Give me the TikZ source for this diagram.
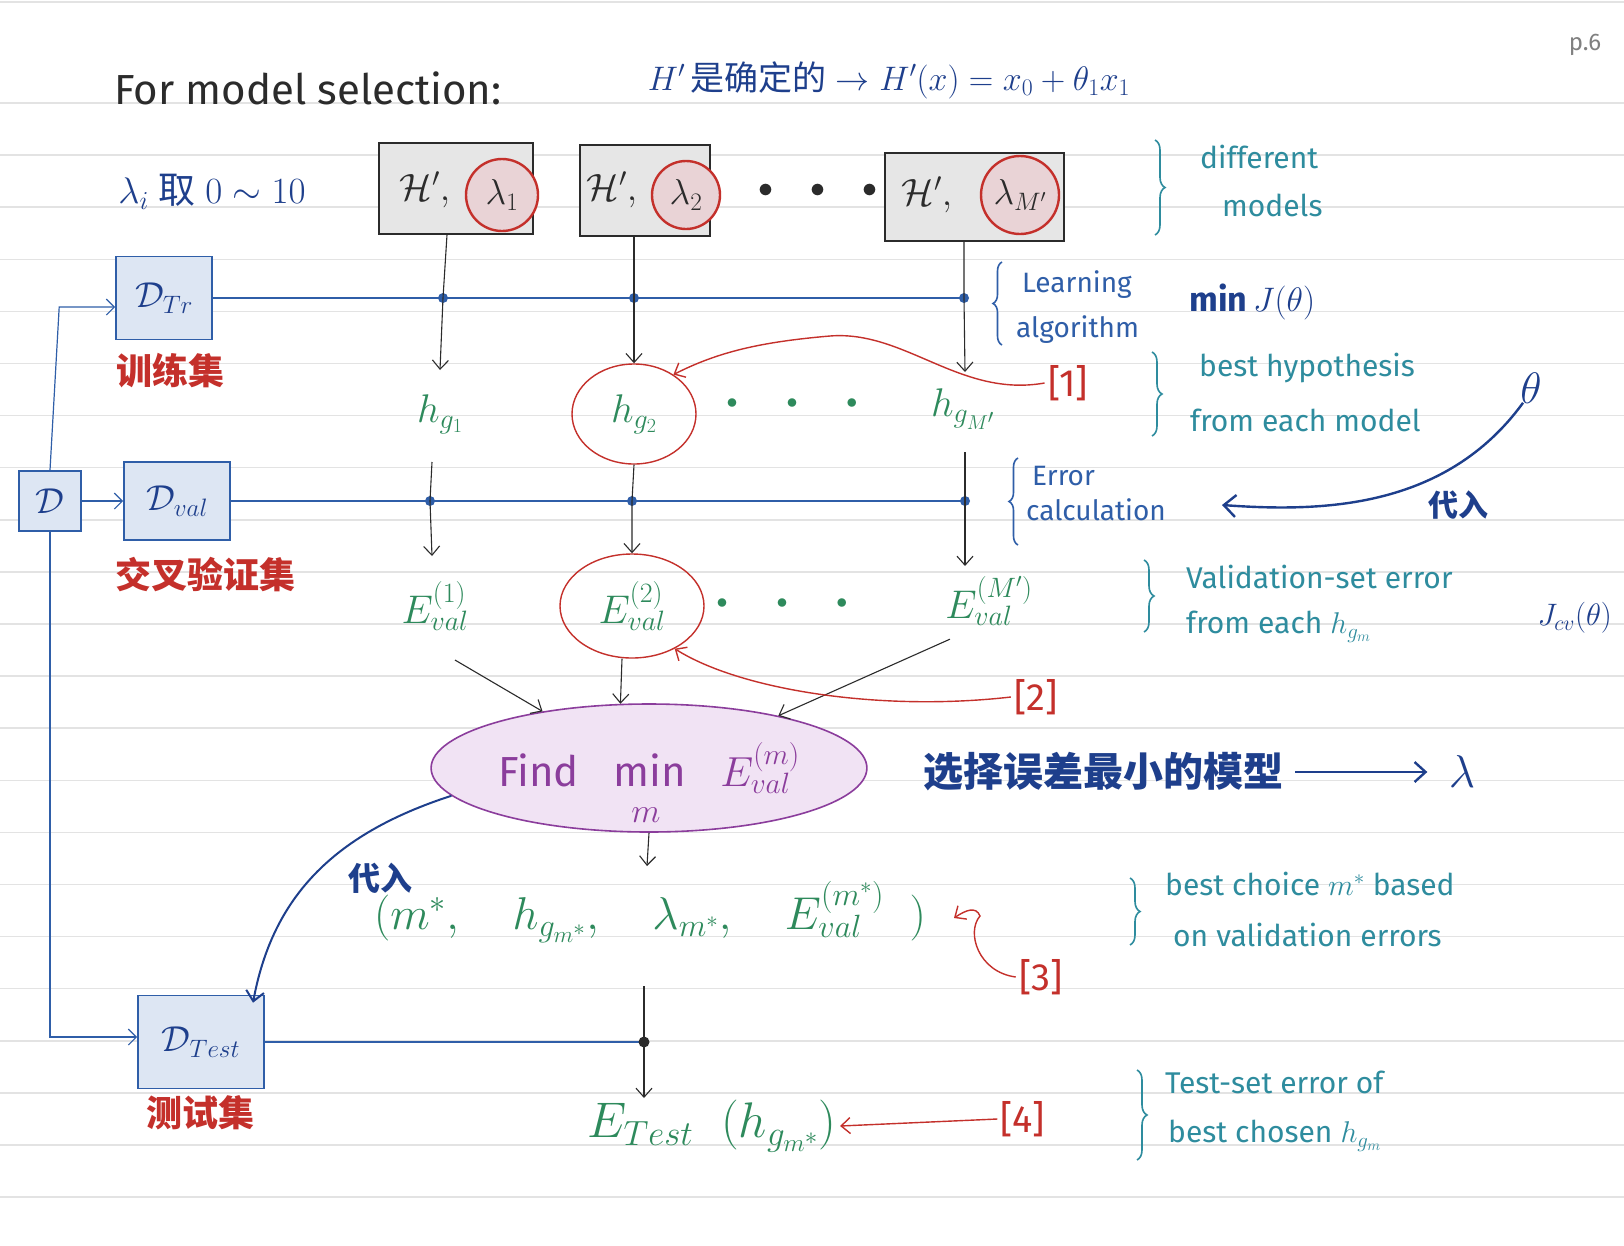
\RequirePackage{fix-cm}
\documentclass[tikz,border=0pt]{standalone}
\usepackage{fontspec}
\setmainfont{Fira Sans}
\newfontfamily\cjk{Noto Sans CJK SC}
\usetikzlibrary{shapes.geometric,decorations.pathreplacing,arrows.meta,calc}
\definecolor{ink}{HTML}{2B2B2B}
\definecolor{navy}{HTML}{1E3F8C}
\definecolor{bblue}{HTML}{2F5EA8}
\definecolor{boxfill}{HTML}{DDE6F3}
\definecolor{tealink}{HTML}{2E8C9E}
\definecolor{grn}{HTML}{2E8A5C}
\definecolor{redink}{HTML}{C4302B}
\definecolor{purp}{HTML}{8B3D9C}
\definecolor{purpfill}{HTML}{F1E3F4}
\definecolor{gfill}{HTML}{E6E6E6}
\definecolor{pinkfill}{HTML}{E9D3D6}
\definecolor{ruleline}{HTML}{E3E3E3}
\begin{document}
\begin{tikzpicture}[x=1pt,y=-1pt,
  modelbox/.style={draw=ink, fill=gfill, line width=1.6pt, inner sep=0pt},
  lamcirc/.style={circle, draw=redink, fill=pinkfill, line width=2.4pt, inner sep=0pt, text=ink, font=\fontsize{36}{40}\selectfont},
  hlab/.style={text=ink, font=\fontsize{38}{42}\selectfont},
  databox/.style={draw=bblue, fill=boxfill, line width=1.6pt, inner sep=0pt, text=navy, font=\fontsize{36}{40}\selectfont},
  redcjk/.style={text=redink, font=\cjk\bfseries\fontsize{36}{40}\selectfont},
  bus/.style={draw=bblue, line width=2pt},
  busdot/.style={fill=bblue},
  feed/.style={draw=bblue, line width=1.2pt, -{Straight Barb[length=8pt,width=16pt]}},
  arr/.style={draw=ink, line width=1.1pt, -{Straight Barb[length=9pt,width=16pt]}},
  redarr/.style={draw=redink, line width=1.4pt, -{Straight Barb[length=9pt,width=16pt]}},
  navyarr/.style={draw=navy, line width=2.4pt, -{Straight Barb[length=11pt,width=20pt]}},
  grnlab/.style={text=grn, font=\fontsize{40}{44}\selectfont},
  redlab/.style={text=redink, font=\fontsize{38}{42}\selectfont},
  note/.style={text=tealink, font=\fontsize{30}{34}\selectfont, anchor=west, inner sep=0pt},
  bnote/.style={text=bblue, font=\fontsize{28}{32}\selectfont, anchor=west, inner sep=0pt},
  navytxt/.style={text=navy, font=\fontsize{34}{38}\selectfont},
  brc/.style={draw=tealink, line width=1.6pt, decorate, decoration={brace, amplitude=10pt}},
  bbrc/.style={draw=bblue, line width=1.6pt, decorate, decoration={brace, amplitude=9pt}},
  dots/.style={font=\fontsize{30}{34}\selectfont},
  sdots/.style={font=\fontsize{22}{26}\selectfont}
]
\useasboundingbox (0,0) rectangle (1624,1245);
\fill[white] (0,0) rectangle (1624,1245);
\foreach \k in {0,...,21} {\draw[ruleline, line width=1.5pt] (0,{103+52.1*\k}) -- (1624,{103+52.1*\k});}
\draw[ruleline, line width=2pt] (0,2) -- (1624,2);

% titles
\node[text=ink, font=\fontsize{42}{46}\selectfont] (title) at (308,88) {For model selection:};
\node[navytxt] (hdef) at (889,80) {$H'$\,{\cjk 是确定的} $\rightarrow H'(x) = x_0 + \theta_1 x_1$};
\node[text=gray, font=\fontsize{24}{28}\selectfont] (page) at (1585,45) {p.6};
\node[navytxt, font=\fontsize{37}{40}\selectfont] (lamrange) at (212,192) {$\lambda_i$ {\cjk 取} $0\sim10$};

% model boxes
\node[modelbox, minimum width=154pt, minimum height=91pt] (m1) at (456,188.5) {};
\node[modelbox, minimum width=130pt, minimum height=91pt] (m2) at (645,190.5) {};
\node[modelbox, minimum width=179pt, minimum height=88pt] (m3) at (974.5,197) {};
\node[hlab] (H1) at (425,190) {$\mathcal{H}',$};
\node[hlab] (H2) at (612,190) {$\mathcal{H}',$};
\node[hlab] (H3) at (927,195) {$\mathcal{H}',$};
\node[lamcirc, minimum size=72pt] (l1) at (502,195) {$\lambda_1$};
\node[lamcirc, minimum size=68pt] (l2) at (686,195) {$\lambda_2$};
\node[lamcirc, minimum size=78pt] (l3) at (1020,195) {$\lambda_{M'}$};
\node[dots, text=ink] (dtop) at (818,191) {$\bullet\quad\bullet\quad\bullet$};

% data boxes
\node[databox, minimum width=96pt, minimum height=83pt] (Dtr) at (164,298) {$\mathcal{D}_{Tr}$};
\node[databox, minimum width=62pt, minimum height=60pt] (D) at (50,501) {$\mathcal{D}$};
\node[databox, minimum width=106pt, minimum height=78pt] (Dval) at (177,501) {$\mathcal{D}_{val}$};
\node[databox, minimum width=126pt, minimum height=93pt] (Dtest) at (201,1042) {$\mathcal{D}_{Test}$};
\node[redcjk] (ztr) at (170,371) {训练集};
\node[redcjk] (zval) at (205,575) {交叉验证集};
\node[redcjk] (ztest) at (200,1113) {测试集};

% feeds from D
\draw[feed] (D.north) -- ($(Dtr.west)+(-56,9)$) -- ($(Dtr.west)+(0,9)$);
\draw[feed] (D.east) -- (Dval.west);
\draw[feed] (D.south) |- ($(Dtest.west)+(0,-5)$);

% bus lines
\coordinate (b11) at (443,298); \coordinate (b12) at (634,298); \coordinate (b13) at (964,298);
\coordinate (b21) at (430,501); \coordinate (b22) at (632,501); \coordinate (b23) at (965,501);
\coordinate (b3) at (644,1042);
\draw[bus] (Dtr.east) -- (b13);
\draw[bus] (Dval.east) -- (b23);
\draw[bus] (Dtest.east) -- (b3);
\foreach \p in {b11,b12,b13,b21,b22,b23} {\fill[busdot] (\p) circle (5pt);}
\fill[ink] (b3) circle (5.5pt);

% hypotheses
\node[grnlab] (hg1) at (440,414) {$h_{g_1}$};
\node[grnlab, ellipse, draw=redink, line width=1.4pt, minimum width=124pt, minimum height=100pt, inner sep=0pt] (hg2) at (634,414) {$h_{g_2}$};
\node[grnlab] (hgM) at (963,409) {$h_{g_{M'}}$};
\node[sdots, text=grn] (dh) at (792,404) {$\bullet\qquad\bullet\qquad\bullet$};

\draw[arr] ([xshift=-9pt]m1.south) -- (b11) -- (440,370);
\draw[arr] (m2.south -| b12) -- (b12) -- (hg2.north);
\draw[arr] (m3.south -| b13) -- (b13) -- (965,372);

% validation errors
\node[grnlab] (E1) at (435,606) {$E^{(1)}_{val}$};
\node[grnlab, ellipse, draw=redink, line width=1.4pt, minimum width=144pt, minimum height=104pt, inner sep=0pt] (E2) at (632,606) {$E^{(2)}_{val}$};
\node[grnlab] (EM) at (989,601) {$E^{(M')}_{val}$};
\node[sdots, text=grn] (dE) at (782,604) {$\bullet\qquad\bullet\qquad\bullet$};

\draw[arr] (432,462) -- (b21) -- (432,556);
\draw[arr] (hg2.south) -- (b22) -- (E2.north);
\draw[arr] (965,452) -- (b23) -- (965,566);

% find min
\node[ellipse, draw=purp, fill=purpfill, line width=1.6pt, minimum width=434pt, minimum height=128pt, text=purp, font=\fontsize{42}{46}\selectfont] (ell) at (649,768) {Find\;\; min\;\; $E^{(m)}_{val}$};
\node[text=purp, font=\fontsize{34}{38}\selectfont, inner sep=1pt] (msub) at (646,815) {$m$};
\draw[arr] ($(E1.south)+(20,26)$) -- (ell.152);
\draw[arr] ($(E2.south)+(-10,0)$) -- (ell.114);
\draw[arr] ($(EM.south west)+(8,10)$) -- (ell.22);

% best choice tuple
\node[grnlab, font=\fontsize{46}{50}\selectfont] (tuple) at (650,912) {$\Big(m^{*},\quad h_{g_{m^*}},\quad \lambda_{m^*},\quad E^{(m^*)}_{val}\;\;\Big)$};
\coordinate (t1) at (647,866);
\draw[arr] (ell.south) -- (t1);
\coordinate (t2) at (644,986);
\coordinate (t3) at (644,1098);
\draw[arr] (t2) -- (b3) -- (t3);

\node[grnlab, font=\fontsize{50}{54}\selectfont] (Etest) at (712,1126) {$E_{Test}\;\;\Big(h_{g_{m^*}}\Big)$};

% blue substitution arrow to test
\draw[draw=navy, line width=2pt, -{Straight Barb[length=10pt,width=18pt]}] (ell.188) .. controls (330,835) and (272,900) .. ($(Dtest.north)+(52,8)$);
\node[text=navy, font=\cjk\bfseries\fontsize{32}{36}\selectfont] (dairu1) at (380,878) {代入};

% red references
\node[redlab] (r1) at (1068,383) {[1]};
\node[redlab] (r2) at (1036,697) {[2]};
\node[redlab] (r3) at (1041,977) {[3]};
\node[redlab] (r4) at (1023,1119) {[4]};
\coordinate (r3tip) at (954,918);
\draw[redarr] (r1.west) .. controls (960,398) and (905,330) .. (830,336) .. controls (760,342) and (718,352) .. (hg2.45);
\draw[redarr] (r2.west) .. controls (880,712) and (740,690) .. (E2.-45);
\draw[redarr] (r3.west) .. controls (978,972) and (966,932) .. (980,916) .. controls (976,906) and (966,910) .. (r3tip);
\draw[redarr] (r4.west) -- (Etest.east);

% right annotations
\draw[brc] (1155,140) -- (1155,235);
\node[note] (n1a) at (1200,157) {different};
\node[note] (n1b) at (1222,205) {models};

\draw[bbrc] (1002,345) -- (1002,262);
\node[bnote] (n2a) at (1022,285) {Learning};
\node[bnote] (n2b) at (1016,330) {algorithm};
\node[text=navy, font=\bfseries\fontsize{34}{38}\selectfont, anchor=west] (minJ) at (1186,302) {min$\,J(\theta)$};

\draw[brc] (1152,352) -- (1152,436);
\node[note] (n3a) at (1199,368) {best hypothesis};
\node[note] (n3b) at (1190,420) {from each model};
\node[text=navy, font=\fontsize{44}{48}\selectfont] (theta) at (1531,388) {$\theta$};
\coordinate (thetaEnd) at (1222,505);
\draw[draw=navy, line width=2.4pt, -{Straight Barb[length=12pt,width=22pt]}] ($(theta.south)+(-8,-4)$) .. controls (1445,510) and (1320,512) .. (thetaEnd);
\node[text=navy, font=\cjk\bfseries\fontsize{30}{34}\selectfont] (dairu2) at (1458,505) {代入};

\draw[bbrc] (1018,545) -- (1018,458);
\node[bnote] (n4a) at (1032,476) {Error};
\node[bnote] (n4b) at (1026,510) {calculation};

\draw[brc] (1144,560) -- (1144,632);
\node[note] (n5a) at (1186,577) {Validation-set error};
\node[note] (n5b) at (1186,627) {from each $h_{g_m}$};
\node[text=navy, font=\fontsize{31}{35}\selectfont, anchor=west] (Jcv) at (1534,618) {$J_{cv}(\theta)$};

\node[text=navy, font=\cjk\bfseries\fontsize{40}{44}\selectfont, anchor=west] (sel) at (920,772) {选择误差最小的模型};
\node[text=navy, font=\fontsize{46}{50}\selectfont] (lamout) at (1462,772) {$\lambda$};
\draw[navyarr] ([xshift=8pt]sel.east) -- ([xshift=-18pt]lamout.west);

\draw[brc] (1130,878) -- (1130,945);
\node[note] (n6a) at (1165,884) {best choice $m^*$ based};
\node[note] (n6b) at (1173,935) {on validation errors};

\draw[brc] (1137,1070) -- (1137,1160);
\node[note] (n7a) at (1165,1082) {Test-set error of};
\node[note] (n7b) at (1168,1136) {best chosen $h_{g_m}$};
\end{tikzpicture}
\end{document}
